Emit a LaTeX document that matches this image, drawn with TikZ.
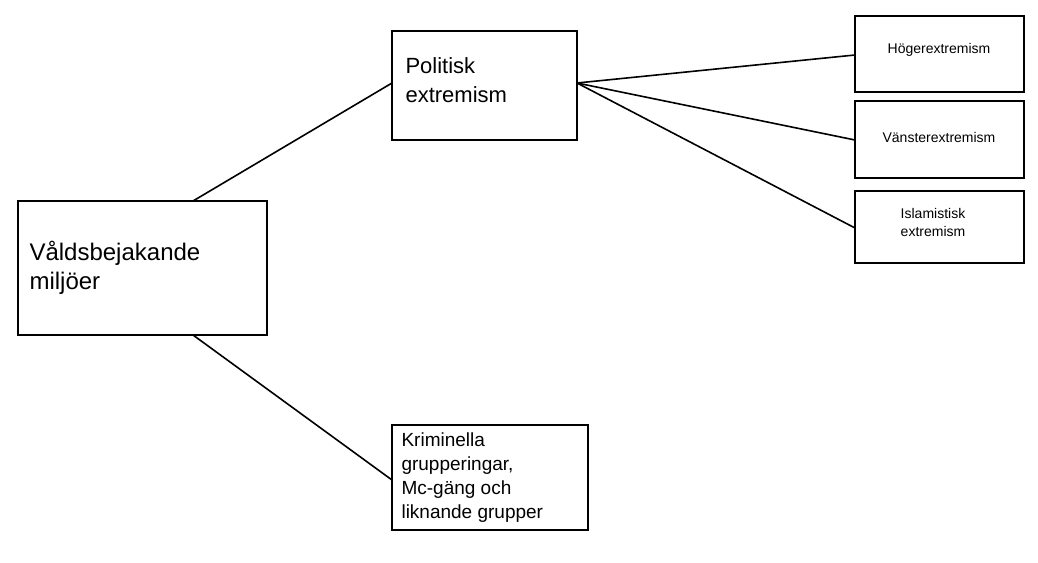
\documentclass[tikz,border=0pt]{standalone}
\usepackage{fontspec}
\setmainfont{Liberation Sans}
\begin{document}
\begin{tikzpicture}[x=1pt,y=-1pt,
  box/.style={draw,line width=1.8pt,inner sep=0pt},
  conn/.style={line width=1.6pt}]
\useasboundingbox[fill=white] (0,0) rectangle (1038,562);
\draw[box] (18,201) rectangle (267,335);
\node[anchor=west,align=left,font=\fontsize{24}{29}\selectfont] (v) at (26,268) {Våldsbejakande\\miljöer};
\draw[box] (392,31) rectangle (577,140);
\node[anchor=west,align=left,font=\fontsize{22}{29}\selectfont] (p) at (402,80) {Politisk\\extremism};
\draw[box] (855,16) rectangle (1024,92);
\node[font=\fontsize{14}{17}\selectfont] (h) at (939,50) {Högerextremism};
\draw[box] (855,101) rectangle (1024,178);
\node[font=\fontsize{14}{17}\selectfont] (vn) at (939,137) {Vänsterextremism};
\draw[box] (855,191) rectangle (1024,263);
\node[align=center,font=\fontsize{14}{18}\selectfont] (i) at (933,222) {Islamistisk\\extremism};
\draw[box] (392,425) rectangle (588,530);
\node[anchor=west,align=left,font=\fontsize{19}{24}\selectfont] (k) at (398,478) {Kriminella\\grupperingar,\\Mc-gäng och\\liknande grupper};
\coordinate (a1) at (193,201); \coordinate (a2) at (392,83);
\coordinate (b1) at (193,335); \coordinate (b2) at (392,480);
\coordinate (c0) at (577,83);
\coordinate (c1) at (855,55); \coordinate (c2) at (855,140); \coordinate (c3) at (855,228);
\draw[conn] (a1)--(a2); \draw[conn] (b1)--(b2);
\draw[conn] (c0)--(c1); \draw[conn] (c0)--(c2); \draw[conn] (c0)--(c3);
\end{tikzpicture}
\end{document}
